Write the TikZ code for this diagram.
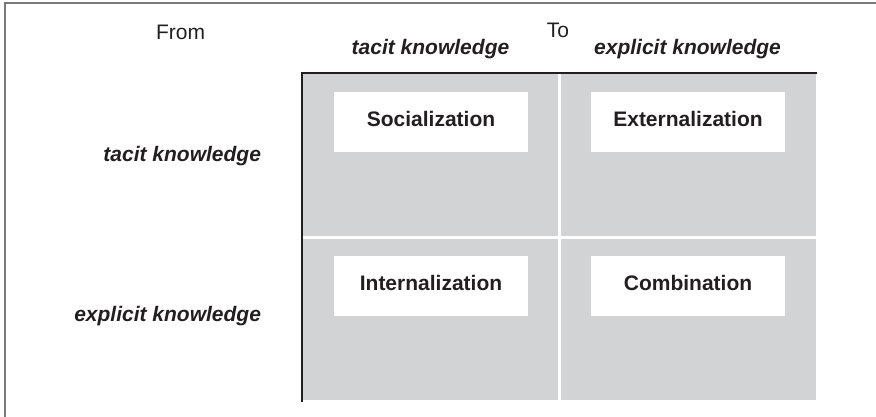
\documentclass[tikz,border=0pt]{standalone}
\usepackage{fontspec}
\setmainfont{Liberation Sans}
\definecolor{ink}{HTML}{231F20}
\definecolor{cellgray}{HTML}{D1D3D4}
\definecolor{framegray}{HTML}{7A7A7A}
\tikzset{
  basefont/.style={font=\fontsize{21}{25}\selectfont},
  plainlabel/.style={basefont, text=ink, inner sep=0pt, outer sep=0pt},
  headlabel/.style={font=\fontsize{21}{25}\selectfont\bfseries\itshape, text=ink, inner sep=0pt, outer sep=0pt},
  cellbox/.style={fill=cellgray, inner sep=0pt, outer sep=0pt, minimum width=#1},
  modebox/.style={fill=white, inner sep=0pt, outer sep=0pt, minimum width=194pt, minimum height=60pt,
    text height=10pt, text depth=0pt, font=\fontsize{21}{25}\selectfont\bfseries, text=ink},
  frameline/.style={draw=framegray, line width=1.5pt},
  axisline/.style={draw=ink, line width=2pt},
}
\begin{document}
\begin{tikzpicture}[x=1pt,y=-1pt]
\useasboundingbox (0,0) rectangle (876,417);
% outer frame (top and left edges)
\coordinate (frameTR) at (876,3);
\coordinate (frameTL) at (5,3);
\coordinate (frameBL) at (5,417);
\draw[frameline] (frameTR) -- (frameTL) -- (frameBL);
% cells
\node[cellbox=256pt, minimum height=163pt] (cTL) at (430,154.5) {};
\node[cellbox=255pt, minimum height=163pt] (cTR) at (688.5,154.5) {};
\node[cellbox=256pt, minimum height=161pt] (cBL) at (430,319.5) {};
\node[cellbox=255pt, minimum height=161pt] (cBR) at (688.5,319.5) {};
% axis lines
\coordinate (axO) at (302,73);
\coordinate (axR) at (816.7,73);
\coordinate (axB) at (302,401.7);
\draw[axisline] (axR) -- (axO) -- (axB);
% mode boxes
\node[modebox] (soc) at (431,122) {Socialization};
\node[modebox] (ext) at (688,122) {Externalization};
\node[modebox] (int) at (431,285.5) {Internalization};
\node[modebox] (com) at (688,285.5) {Combination};
% labels
\node[plainlabel, anchor=base] (from) at (180.5,40) {From};
\node[plainlabel, anchor=base] (to) at (558,38) {To};
\node[headlabel, anchor=base] (toTacit) at (430.5,55) {tacit knowledge};
\node[headlabel, anchor=base] (toExplicit) at (687.5,55) {explicit knowledge};
\node[headlabel, anchor=base east] (fromTacit) at (261,162) {tacit knowledge};
\node[headlabel, anchor=base east] (fromExplicit) at (261,321) {explicit knowledge};
\end{tikzpicture}
\end{document}
